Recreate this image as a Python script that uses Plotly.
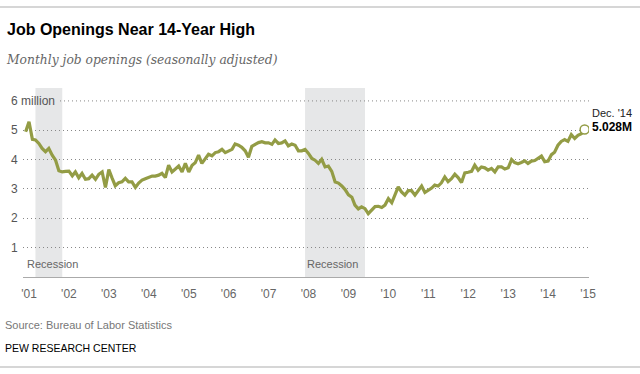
import pandas as pd
import plotly.graph_objects as go

# ---- data ----
months = pd.date_range("2000-12-01", "2014-12-01", freq="MS")
openings_millions = [
    4.95,                                                       # Dec 2000
    5.29, 4.69, 4.67, 4.55, 4.38, 4.27, 4.38, 4.15, 3.98, 3.62, 3.58, 3.60,  # 2001
    3.61, 3.45, 3.58, 3.38, 3.53, 3.33, 3.35, 3.47, 3.33, 3.50, 3.58, 3.05,  # 2002
    3.66, 3.36, 3.11, 3.21, 3.24, 3.36, 3.24, 3.24, 3.05, 3.20, 3.30, 3.35,  # 2003
    3.40, 3.44, 3.44, 3.47, 3.53, 3.39, 3.81, 3.58, 3.68, 3.78, 3.58, 3.87,  # 2004
    3.58, 3.81, 3.89, 4.15, 3.87, 4.04, 4.18, 4.13, 4.24, 4.27, 4.35, 4.24,  # 2005
    4.29, 4.35, 4.53, 4.49, 4.42, 4.30, 4.08, 4.45, 4.52, 4.58, 4.61, 4.57,  # 2006
    4.57, 4.52, 4.67, 4.55, 4.57, 4.64, 4.47, 4.53, 4.49, 4.30, 4.30, 4.35,  # 2007
    4.21, 4.04, 3.98, 3.87, 4.01, 3.75, 3.78, 3.60, 3.24, 3.20, 3.10, 2.98,  # 2008
    2.80, 2.72, 2.45, 2.32, 2.39, 2.33, 2.16, 2.30, 2.40, 2.41, 2.37, 2.45,  # 2009
    2.67, 2.53, 2.80, 3.07, 2.90, 2.79, 2.94, 2.94, 2.79, 2.95, 3.10, 2.88,  # 2010
    2.95, 3.03, 3.13, 3.10, 3.21, 3.41, 3.25, 3.35, 3.50, 3.39, 3.22, 3.55,  # 2011
    3.57, 3.60, 3.81, 3.64, 3.75, 3.72, 3.64, 3.70, 3.58, 3.75, 3.75, 3.68,  # 2012
    3.72, 4.00, 3.90, 3.86, 3.90, 3.96, 3.87, 3.95, 3.97, 4.05, 4.12, 3.93,  # 2013
    3.95, 4.17, 4.25, 4.49, 4.62, 4.68, 4.62, 4.85, 4.72, 4.83, 4.88, 5.028, # 2014
]
recession_starts = ["2001-03-01", "2007-12-01"]
recession_ends = ["2001-11-01", "2009-06-01"]
tick_dates = [f"{y}-01-01" for y in range(2001, 2016)]
tick_labels = [f"'{y % 100:02d}" for y in range(2001, 2016)]
y_ticks = [1, 2, 3, 4, 5, 6]
y_tick_labels = ["1", "2", "3", "4", "5", "6 million"]
last_label_top = "Dec. '14"
last_label_value = "5.028M"

# ---- layout geometry (pixels) ----
W, H = 640, 374
L, R, T, B = 23, 51, 88, 97
PW, PH = W - L - R, H - T - B
LINE = "#939c45"
SANS = "Liberation Sans, Arial, sans-serif"
GRID = dict(color="#888", width=1, dash="1px,3px")


def px(x):
    return (x - L) / PW


def py(y):
    return (H - B - y) / PH


fig = go.Figure()
fig.add_trace(go.Scatter(
    x=months, y=openings_millions, mode="lines",
    line=dict(color=LINE, width=3.2), hoverinfo="skip", showlegend=False,
))
fig.add_trace(go.Scatter(
    x=[months[-1]], y=[openings_millions[-1]], mode="markers",
    marker=dict(size=9, color="white", line=dict(color=LINE, width=1.5)),
    hoverinfo="skip", showlegend=False,
))

for i, (s, e) in enumerate(zip(recession_starts, recession_ends)):
    fig.add_shape(type="rect", xref="x", yref="paper", x0=s, x1=e, y0=0, y1=1,
                  fillcolor="#e6e7e8", line_width=0, layer="below")
    fig.add_annotation(x=s, xref="x", y=0.46, yref="y",
                       text="Recession", showarrow=False, xanchor="left", yanchor="middle",
                       xshift=-10 if i == 0 else 0,
                       font=dict(family=SANS, size=11, color="#666"))

# top gridline starts after the "6 million" label
fig.add_shape(type="line", xref="paper", yref="y", x0=px(60), x1=1, y0=y_ticks[-1], y1=y_ticks[-1],
              line=GRID, layer="below")

for v, t in zip(y_ticks, y_tick_labels):
    fig.add_annotation(x=px(9), xref="paper", y=v, yref="y", text=t, showarrow=False,
                       xanchor="left", yanchor="middle",
                       font=dict(family=SANS, size=12, color="#555"))

texts = [
    (5, 29, "<b>Job Openings Near 14-Year High</b>", dict(family=SANS, size=16, color="#000")),
    (4, 60, "<i>Monthly job openings (seasonally adjusted)</i>", dict(family="DejaVu Serif, serif", size=12.3, color="#666")),
    (3, 325, "Source: Bureau of Labor Statistics", dict(family=SANS, size=11, color="#777")),
    (3, 348, "PEW RESEARCH CENTER", dict(family=SANS, size=10.5, color="#000")),
    (590, 113, last_label_top, dict(family=SANS, size=11, color="#222")),
    (590, 127, "<b>" + last_label_value + "</b>", dict(family=SANS, size=12, color="#000")),
]
for x, y, t, f in texts:
    fig.add_annotation(x=px(x), y=py(y), xref="paper", yref="paper", text=t, showarrow=False,
                       xanchor="left", yanchor="middle", font=f)

for yy in (7, 367):
    fig.add_shape(type="line", xref="paper", yref="paper", x0=px(0), x1=px(W),
                  y0=py(yy), y1=py(yy), line=dict(color="#c8c8c8", width=1.5))

fig.update_layout(
    width=W, height=H, margin=dict(l=L, r=R, t=T, b=B),
    paper_bgcolor="white", plot_bgcolor="white",
    xaxis=dict(type="date", range=["2000-11-07", "2015-01-10"], tickvals=tick_dates,
               ticktext=tick_labels, showgrid=False, zeroline=False, showline=True,
               linecolor="#aaa", linewidth=1, ticks="", ticklabelstandoff=6,
               tickfont=dict(family=SANS, size=12, color="#666")),
    yaxis=dict(range=[0, 6.44], tickvals=y_ticks[:-1], showticklabels=False, showgrid=True,
               gridcolor=GRID["color"], griddash=GRID["dash"], gridwidth=1, zeroline=False),
)

fig.write_html("out.html", config={"displayModeBar": False},
               post_script="document.body.style.margin='0px';document.body.style.overflow='hidden';")
